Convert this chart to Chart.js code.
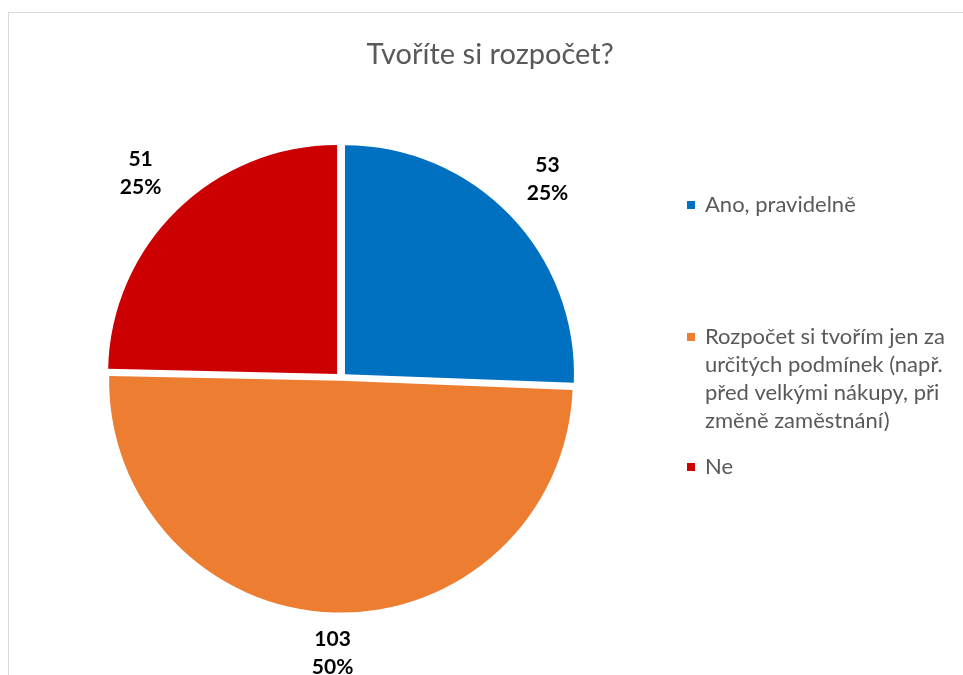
<!DOCTYPE html>
<html lang="cs">
<head>
<meta charset="utf-8">
<title>Tvoříte si rozpočet?</title>
<script src="https://cdn.jsdelivr.net/npm/chart.js@4.4.1/dist/chart.umd.min.js"></script>
<style>
  html, body { margin: 0; padding: 0; background: #fff; overflow: hidden; }
  #frame {
    position: absolute; left: 8px; top: 12px;
    width: 2000px; height: 2000px;
    border: 1px solid #d9d9d9;
  }
  #wrap { position: absolute; left: 0; top: 0; width: 963px; height: 675px; }
</style>
</head>
<body>
<div id="frame"></div>
<div id="wrap"><canvas id="pieChart" width="963" height="675"></canvas></div>
<script>
// survey answers
const chartTitle = 'Tvoříte si rozpočet?';
const answers = [
    ['Ano, pravidelně'],
    ['Rozpočet si tvořím jen za', 'určitých podmínek (např.', 'před velkými nákupy, při', 'změně zaměstnání)'],
    ['Ne']
];
const counts = [53, 103, 51];
const colors = ['#0070C0', '#ED7D31', '#CC0000'];

const textGrey = '#595959';
const labelFont = 'bold 21px Lato';
const legendFont = '22px Lato';

// whole percentages that still add up to 100 (largest remainder)
function percentages(values) {
    const total = values.reduce((a, b) => a + b, 0);
    const raw = values.map(v => v / total * 100);
    const out = raw.map(Math.floor);
    let left = 100 - out.reduce((a, b) => a + b, 0);
    raw.map((r, i) => [r - Math.floor(r), i])
        .sort((a, b) => b[0] - a[0])
        .forEach(([, i]) => { if (left > 0) { out[i]++; left--; } });
    return out;
}
const shares = percentages(counts);

// Title, legend and the value/percent labels are painted here
const decorations = {
    id: 'decorations',
    afterDraw(chart) {
        const ctx = chart.ctx;
        ctx.save();

        // title
        ctx.fillStyle = textGrey;
        ctx.font = '29px Lato';
        ctx.textAlign = 'center';
        ctx.textBaseline = 'middle';
        ctx.fillText(chartTitle, 490, 55);

        // labels outside each slice
        const meta = chart.getDatasetMeta(0);
        ctx.font = labelFont;
        ctx.fillStyle = '#000';
        const lineH = 28;
        meta.data.forEach((arc, i) => {
            const p = arc.getProps(['x', 'y', 'startAngle', 'endAngle', 'outerRadius'], true);
            const mid = (p.startAngle + p.endAngle) / 2;
            const dx = Math.cos(mid), dy = Math.sin(mid);
            const lines = [String(counts[i]), shares[i] + '%'];
            const hw = Math.max(...lines.map(l => ctx.measureText(l).width)) / 2 + 6;
            const hh = lines.length * lineH / 2;
            // push the label box out until its nearest corner clears the pie
            const cx = Math.sign(dx) * hw, cy = Math.sign(dy) * hh;
            const dc = dx * cx + dy * cy;
            const r = p.outerRadius + 19;
            const t = dc + Math.sqrt(dc * dc - (cx * cx + cy * cy) + r * r);
            const lx = p.x + dx * t, ly = p.y + dy * t;
            lines.forEach((l, j) => {
                ctx.fillText(l, lx, ly - hh + lineH / 2 + j * lineH);
            });
        });

        // legend
        const legendTop = [205, 337, 467];
        ctx.font = legendFont;
        ctx.textAlign = 'left';
        answers.forEach((lines, i) => {
            ctx.fillStyle = colors[i];
            ctx.fillRect(687, legendTop[i] - 4, 8, 8);
            ctx.fillStyle = textGrey;
            lines.forEach((l, j) => ctx.fillText(l, 705, legendTop[i] + j * 28));
        });

        ctx.restore();
    }
};

new Chart(document.getElementById('pieChart'), {
    type: 'pie',
    data: {
        labels: answers.map(a => a.join(' ')),
        datasets: [{
            data: counts,
            backgroundColor: colors,
            borderWidth: 0,
            offset: [22, 11.3, 22.4]
        }]
    },
    options: {
        responsive: false,
        animation: false,
        radius: 229,
        layout: { padding: { left: 100, right: 381, top: 138, bottom: 57 } },
        plugins: {
            legend: { display: false },
            tooltip: { enabled: false }
        }
    },
    plugins: [decorations]
});
</script>
</body>
</html>
